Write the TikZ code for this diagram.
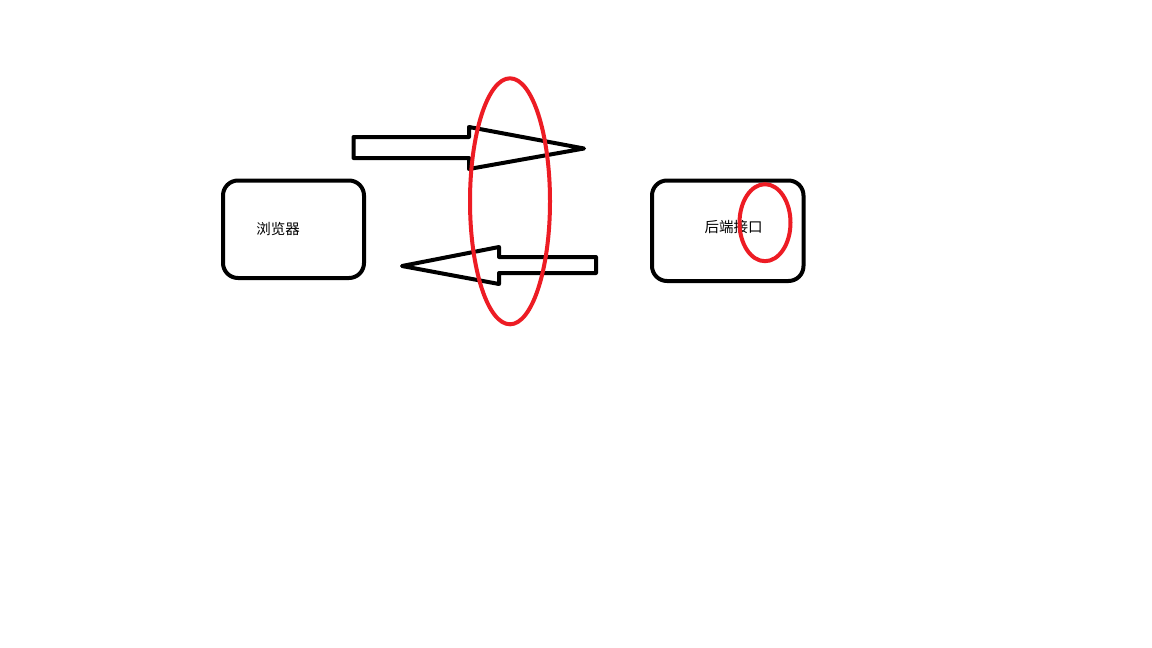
\documentclass[tikz,border=0pt]{standalone}
\usepackage{fontspec}
\newfontfamily\cjk{Noto Sans CJK SC}
\definecolor{paintred}{HTML}{ED1C24}
\begin{document}
\begin{tikzpicture}[x=1pt,y=-1pt,
  box/.style={draw=black,line width=4pt,rounded corners=15pt},
  lbl/.style={font=\cjk\fontsize{14.5pt}{16pt}\selectfont,inner sep=0pt},
  blockarrow/.style={draw=black,line width=4pt,line join=round},
  redring/.style={draw=paintred,line width=4pt}]
\useasboundingbox (0,0) rectangle (1152,648);
\fill[white] (0,0) rectangle (1152,648);
% boxes
\draw[box] (223,180.5) rectangle (364,278);
\node[lbl] (browser) at (278,229) {浏览器};
\draw[box] (652,180.5) rectangle (803.5,281);
\node[lbl] (backend) at (733.5,227.5) {后端接口};
% arrows
\draw[blockarrow] (353.5,137) -- (469,137) -- (469,127) -- (584,148.5) -- (469,169) -- (469,158) -- (353.5,158) -- cycle;
\draw[blockarrow] (596,257) -- (499,257) -- (499,247) -- (402,266) -- (499,284) -- (499,273) -- (596,273) -- cycle;
% red ellipses
\draw[redring] (510,201.3) ellipse [x radius=40, y radius=123];
\draw[redring] (765,222.7) ellipse [x radius=25.5, y radius=38.5];
\end{tikzpicture}
\end{document}
